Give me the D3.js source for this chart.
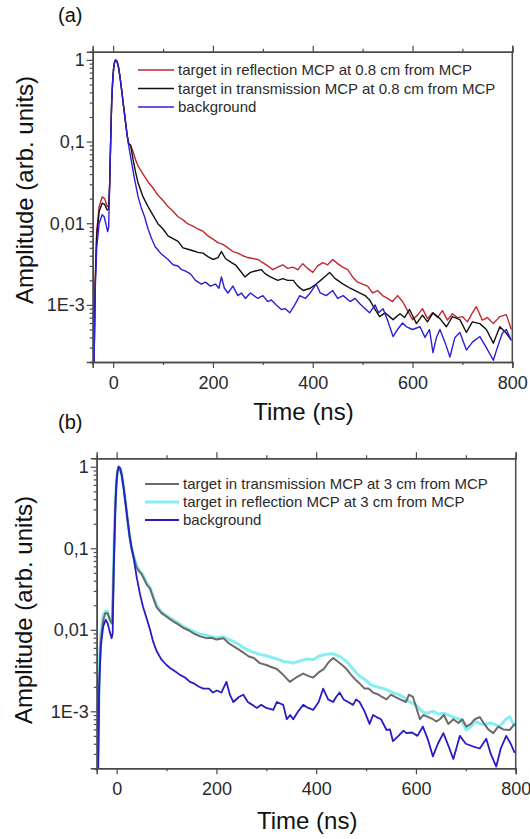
<!DOCTYPE html>
<html>
<head>
<meta charset="utf-8">
<script src="https://cdn.jsdelivr.net/npm/d3@7"></script>
<style>
  body { margin: 0; background: #fff; }
  text { font-family: Arial, "Liberation Sans", sans-serif; }
</style>
</head>
<body>
<div id="plot"></div>
<script>
// ---- data: [time (ns), amplitude] ----
var reflA = [[-39,1e-4],[-36,0.002],[-33,0.008],[-28,0.016],[-22,0.021],[-17,0.02],[-12,0.016],[-9,0.016],[-7,0.03],[-5,0.1],[-3,0.3],[-1,0.55],[1,0.8],[3,0.95],[5,1.0],[8,0.95],[11,0.8],[14,0.6],[17,0.43],[20,0.3],[24,0.19],[28,0.12],[31,0.095],[35,0.09],[40,0.075],[45,0.06],[50,0.05],[60,0.04],[70,0.032],[80,0.027],[90,0.022],[100,0.019],[110,0.016],[120,0.014],[130,0.012],[140,0.011],[150,0.0098],[160,0.0092],[170,0.0085],[180,0.008],[190,0.007],[200,0.0064],[210,0.0058],[220,0.0055],[230,0.005],[240,0.0045],[250,0.0043],[260,0.004],[270,0.0038],[280,0.0037],[290,0.0036],[300,0.0033],[310,0.003],[320,0.0027],[330,0.0029],[340,0.0031],[350,0.0028],[360,0.0029],[370,0.0027],[380,0.0032],[390,0.0028],[400,0.0025],[410,0.003],[420,0.0033],[430,0.0031],[440,0.0036],[450,0.0032],[460,0.0029],[470,0.0027],[480,0.0022],[490,0.0019],[500,0.0018],[510,0.0017],[520,0.0014],[530,0.0015],[540,0.0013],[550,0.0012],[560,0.0011],[570,0.0013],[580,0.0011],[590,0.00085],[600,0.00066],[610,0.00075],[620,0.0009],[630,0.00068],[640,0.0008],[650,0.0007],[660,0.00085],[670,0.00065],[680,0.00078],[690,0.0007],[700,0.00072],[710,0.00062],[720,0.0008],[728,0.00095],[740,0.00065],[750,0.0007],[762,0.00059],[775,0.00072],[788,0.00076],[798,0.0005]];

var transA = [[-39,1e-4],[-36,0.0018],[-33,0.007],[-28,0.014],[-22,0.0176],[-17,0.017],[-12,0.0145],[-9,0.015],[-7,0.03],[-5,0.1],[-3,0.3],[-1,0.55],[1,0.8],[3,0.95],[5,1.0],[8,0.95],[11,0.8],[14,0.6],[17,0.43],[20,0.3],[24,0.19],[28,0.12],[31,0.095],[35,0.09],[40,0.06],[45,0.042],[50,0.031],[60,0.021],[70,0.016],[80,0.0125],[90,0.0098],[100,0.0085],[110,0.007],[120,0.0065],[130,0.006],[140,0.005],[150,0.0048],[160,0.0046],[170,0.0044],[180,0.0043],[190,0.0039],[200,0.0036],[210,0.0038],[217,0.0045],[225,0.0037],[237,0.0033],[245,0.0031],[255,0.0026],[264,0.0022],[275,0.0025],[285,0.0026],[297,0.0027],[305,0.0024],[315,0.0022],[330,0.002],[340,0.0021],[350,0.002],[361,0.002],[370,0.0017],[381,0.0015],[395,0.0016],[407,0.0018],[420,0.0021],[434,0.0025],[445,0.0021],[461,0.0018],[475,0.0016],[494,0.0014],[505,0.0013],[514,0.00115],[524,0.0009],[534,0.00072],[545,0.0008],[561,0.00066],[575,0.00078],[584,0.0007],[594,0.00088],[608,0.00059],[620,0.00075],[630,0.00062],[641,0.0008],[655,0.00068],[668,0.00054],[680,0.00072],[695,0.00066],[708,0.00046],[720,0.00062],[735,0.00059],[748,0.0005],[762,0.00034],[775,0.00054],[788,0.00045],[798,0.00037]];

var bgA = [[-39,1e-4],[-36,0.0015],[-33,0.005],[-28,0.01],[-22,0.0127],[-18,0.012],[-14,0.0095],[-11,0.0079],[-9,0.009],[-7,0.03],[-5,0.1],[-3,0.3],[-1,0.55],[1,0.8],[3,0.95],[5,1.0],[8,0.95],[11,0.8],[14,0.6],[17,0.43],[20,0.3],[24,0.19],[28,0.12],[31,0.09],[36,0.06],[42,0.037],[50,0.021],[57,0.015],[63,0.012],[70,0.0085],[77,0.0065],[84,0.0052],[95,0.0043],[110,0.0036],[120,0.0031],[130,0.003],[137,0.0027],[145,0.0026],[155,0.0024],[165,0.002],[177,0.0018],[185,0.0019],[195,0.0017],[205,0.0018],[212,0.0016],[217,0.0022],[223,0.0016],[230,0.0014],[240,0.0017],[250,0.0013],[257,0.0014],[265,0.0012],[275,0.0014],[290,0.0012],[300,0.0013],[310,0.0011],[317,0.00115],[327,0.001],[337,0.00088],[345,0.0009],[354,0.0008],[364,0.001],[374,0.0013],[385,0.0012],[395,0.0014],[407,0.0018],[415,0.0014],[427,0.0013],[440,0.0015],[450,0.0012],[461,0.0013],[475,0.0011],[485,0.0012],[494,0.00104],[505,0.0009],[514,0.0008],[525,0.001],[532,0.0008],[541,0.0009],[550,0.00065],[561,0.00041],[570,0.0005],[580,0.0006],[588,0.00054],[600,0.0005],[615,0.00054],[625,0.0004],[634,0.0005],[641,0.00026],[648,0.0004],[655,0.0005],[665,0.00035],[675,0.00023],[685,0.0004],[695,0.00046],[708,0.00028],[720,0.00035],[735,0.00041],[748,0.0003],[762,0.00021],[770,0.0003],[780,0.00045],[788,0.0005],[798,0.00037]];

var transB = [[-38,1e-4],[-35,0.002],[-32,0.007],[-27,0.013],[-23,0.016],[-18,0.016],[-13,0.013],[-9,0.012],[-7,0.03],[-5,0.1],[-3,0.3],[-1,0.55],[1,0.8],[4,1.0],[7,0.95],[10,0.8],[14,0.55],[18,0.35],[22,0.22],[26,0.14],[30,0.1],[35,0.075],[40,0.058],[45,0.052],[50,0.048],[55,0.042],[60,0.036],[67,0.032],[73,0.025],[80,0.019],[90,0.016],[100,0.0145],[107,0.0135],[115,0.0125],[125,0.0115],[133,0.0106],[145,0.0098],[155,0.009],[167,0.0083],[180,0.0079],[190,0.008],[200,0.0076],[214,0.0079],[225,0.0068],[234,0.0063],[245,0.0057],[255,0.0052],[265,0.0047],[275,0.0045],[287,0.0039],[300,0.0037],[310,0.0035],[321,0.0033],[334,0.0028],[347,0.0023],[360,0.0026],[374,0.0029],[385,0.0027],[394,0.0026],[405,0.003],[415,0.0033],[425,0.004],[434,0.0045],[445,0.004],[452,0.0037],[461,0.0033],[470,0.0028],[480,0.0024],[487,0.0022],[497,0.0019],[505,0.0019],[514,0.0017],[525,0.0016],[532,0.0015],[541,0.0014],[550,0.0016],[558,0.0015],[568,0.0014],[580,0.0013],[586,0.0016],[594,0.0015],[601,0.0011],[608,0.0008],[615,0.0009],[625,0.00085],[634,0.0008],[641,0.00075],[648,0.0008],[656,0.0009],[665,0.0007],[675,0.0008],[685,0.00072],[693,0.0008],[701,0.00065],[710,0.0007],[718,0.0008],[728,0.00085],[737,0.0007],[745,0.0006],[755,0.00054],[765,0.00065],[775,0.0006],[788,0.00059],[798,0.0007]];

var reflB = [[-38,1e-4],[-35,0.003],[-32,0.009],[-27,0.015],[-23,0.0168],[-19,0.017],[-15,0.014],[-11,0.012],[-9,0.013],[-7,0.04],[-5,0.12],[-3,0.32],[-1,0.58],[1,0.82],[4,1.0],[7,0.96],[10,0.82],[14,0.56],[18,0.36],[22,0.22],[26,0.14],[30,0.1],[35,0.078],[40,0.062],[45,0.055],[50,0.05],[55,0.044],[60,0.038],[67,0.033],[73,0.026],[80,0.02],[90,0.0165],[100,0.015],[107,0.014],[115,0.013],[125,0.012],[133,0.011],[145,0.0102],[155,0.0095],[167,0.0088],[180,0.0086],[190,0.0082],[200,0.008],[214,0.0082],[225,0.0076],[234,0.0072],[245,0.0066],[255,0.006],[265,0.0056],[275,0.0053],[287,0.005],[300,0.0048],[310,0.0046],[321,0.0044],[334,0.0041],[347,0.004],[354,0.0039],[365,0.0041],[381,0.0044],[394,0.0043],[407,0.0048],[420,0.005],[434,0.0051],[447,0.0047],[461,0.0041],[474,0.0033],[487,0.0027],[500,0.0024],[510,0.0021],[521,0.002],[535,0.0019],[545,0.0018],[554,0.0017],[565,0.0016],[575,0.0015],[588,0.0013],[600,0.0012],[612,0.001],[621,0.00095],[635,0.001],[645,0.00092],[655,0.00095],[665,0.0009],[675,0.00085],[688,0.0008],[695,0.0007],[701,0.00059],[710,0.00065],[720,0.00075],[730,0.0007],[741,0.0007],[750,0.00072],[760,0.00068],[768,0.00065],[780,0.0008],[788,0.00086],[798,0.00065]];

var bgB = [[-38,1e-4],[-35,0.002],[-32,0.006],[-27,0.011],[-22,0.0133],[-18,0.012],[-14,0.0095],[-10,0.0079],[-8,0.009],[-6,0.05],[-4,0.15],[-2,0.4],[0,0.7],[2,0.9],[4,1.0],[7,0.95],[10,0.8],[14,0.55],[18,0.35],[22,0.22],[26,0.14],[30,0.1],[35,0.07],[40,0.045],[47,0.027],[53,0.019],[60,0.0139],[67,0.01],[73,0.0072],[80,0.0055],[90,0.0043],[100,0.0037],[107,0.0034],[117,0.0031],[127,0.0028],[137,0.0026],[147,0.0023],[155,0.0022],[165,0.002],[174,0.0019],[185,0.0019],[193,0.0017],[201,0.0018],[210,0.0017],[220,0.0023],[227,0.0016],[234,0.0013],[245,0.0015],[254,0.0016],[263,0.0013],[272,0.0012],[281,0.0011],[290,0.0012],[300,0.0011],[314,0.00104],[321,0.0013],[334,0.0012],[341,0.0008],[348,0.0009],[354,0.0008],[364,0.001],[374,0.0012],[384,0.0011],[394,0.00104],[405,0.0013],[414,0.0019],[424,0.0014],[434,0.0013],[440,0.0015],[447,0.0017],[455,0.0014],[464,0.0013],[474,0.0012],[480,0.0014],[487,0.0013],[497,0.001],[507,0.0007],[514,0.0009],[521,0.00085],[530,0.0008],[541,0.00059],[548,0.0006],[554,0.00043],[565,0.0005],[575,0.00058],[581,0.00054],[592,0.00055],[603,0.0005],[614,0.00065],[624,0.00045],[634,0.00028],[644,0.0004],[655,0.00054],[665,0.00038],[675,0.00026],[681,0.00035],[688,0.0005],[700,0.0004],[715,0.00037],[728,0.00035],[741,0.00046],[750,0.0003],[761,0.00021],[770,0.00035],[781,0.0005],[790,0.0004],[798,0.00031]];

var xMajor = [0, 200, 400, 600, 800];
var xMinor = [100, 300, 500, 700];
var yMajor = [1e-3, 1e-2, 0.1, 1];
var yLabels = {"0.001": "1E-3", "0.01": "0,01", "0.1": "0,1", "1": "1"};

var width = 530, height = 839;
var axisColor = "#4a4a4a", textColor = "#2a2a2a";

var svg = d3.select("#plot").append("svg")
    .attr("width", width)
    .attr("height", height);

// minor ticks 2..9 for each decade inside the domain
function logMinors(lo, hi) {
  var out = [];
  for (var e = -5; e <= 1; e++) {
    for (var m = 2; m <= 9; m++) {
      var v = m * Math.pow(10, e);
      if (v >= lo && v <= hi) out.push(v);
    }
  }
  return out;
}

function drawPanel(p) {
  var x = d3.scaleLinear().domain(p.xdom).range([p.left, p.right]);
  var y = d3.scaleLog().domain(p.ydom).range([p.bottom, p.top]);
  var g = svg.append("g");

  g.append("clipPath").attr("id", "clip" + p.id)
    .append("rect")
    .attr("x", p.left).attr("y", p.top)
    .attr("width", p.right - p.left).attr("height", p.bottom - p.top);

  var line = d3.line()
      .x(function(d) { return x(d[0]); })
      .y(function(d) { return y(d[1]); });

  // curves (drawn in p.series order)
  var curves = g.append("g").attr("clip-path", "url(#clip" + p.id + ")");
  p.series.forEach(function(s) {
    curves.append("path")
      .datum(s.data)
      .attr("d", line)
      .attr("fill", "none")
      .attr("stroke", s.color)
      .attr("stroke-width", s.w)
      .attr("stroke-linejoin", "round");
  });

  // axes
  g.append("g").attr("transform", "translate(" + p.left + ",0)")
    .call(d3.axisLeft(y).tickValues(yMajor).tickSize(6).tickPadding(2)
      .tickFormat(function(d) { return yLabels[String(d)]; }));
  g.append("g").attr("transform", "translate(" + p.left + ",0)")
    .call(d3.axisLeft(y).tickValues(logMinors(p.ydom[0], p.ydom[1])).tickSize(3).tickFormat(""));

  var xAxis = g.append("g").attr("transform", "translate(0," + p.bottom + ")")
    .call(d3.axisBottom(x).tickValues(xMajor).tickSize(6).tickPadding(5));
  g.append("g").attr("transform", "translate(0," + p.bottom + ")")
    .call(d3.axisBottom(x).tickValues(xMinor).tickSize(3).tickFormat(""));

  g.append("g").attr("transform", "translate(0," + p.top + ")")
    .call(d3.axisTop(x).tickValues(xMajor).tickSize(6).tickFormat(""));
  g.append("g").attr("transform", "translate(0," + p.top + ")")
    .call(d3.axisTop(x).tickValues(xMinor).tickSize(3).tickFormat(""));

  g.append("line").attr("class", "frame")
    .attr("x1", p.right).attr("x2", p.right)
    .attr("y1", p.top).attr("y2", p.bottom)
    .attr("stroke", axisColor).attr("stroke-width", 1.5);

  g.selectAll(".domain").attr("stroke", axisColor).attr("stroke-width", 1.5);
  g.selectAll(".tick line").attr("stroke", axisColor).attr("stroke-width", 1.2);
  g.selectAll(".tick text").attr("fill", textColor).style("font-size", "18px")
    .style("font-family", "Arial, 'Liberation Sans', sans-serif");
  xAxis.selectAll(".tick text").attr("dy", "0.9em");

  // legend (in p.legend order)
  var lg = g.append("g");
  p.legend.forEach(function(s, i) {
    var ly = p.legY + i * p.legStep;
    lg.append("line")
      .attr("x1", p.legX).attr("x2", p.legX + p.legLen)
      .attr("y1", ly).attr("y2", ly)
      .attr("stroke", s.color).attr("stroke-width", s.w);
    lg.append("text")
      .attr("x", p.legX + p.legLen + 4).attr("y", ly)
      .attr("dy", "0.35em")
      .attr("fill", textColor)
      .style("font-size", "15px")
      .text(s.label);
  });

  // titles
  g.append("text")
    .attr("x", (p.left + p.right) / 2 + 1).attr("y", p.xTitleY)
    .attr("text-anchor", "middle").attr("fill", "#111")
    .style("font-size", "24px")
    .text("Time (ns)");
  g.append("text")
    .attr("transform", "translate(" + p.yTitleX + "," + p.yTitleMid + ") rotate(-90)")
    .attr("text-anchor", "middle").attr("fill", "#111")
    .style("font-size", "24px")
    .text("Amplitude (arb. units)");
  g.append("text")
    .attr("x", 58).attr("y", p.tagY)
    .attr("fill", "#111")
    .style("font-size", "20px")
    .text(p.tag);
}

var sReflA = {data: reflA, color: "#c0282e", w: 1.4, label: "target in reflection MCP at 0.8 cm from MCP"};
var sTransA = {data: transA, color: "#111111", w: 1.4, label: "target in transmission MCP at 0.8 cm from MCP"};
var sBgA = {data: bgA, color: "#2d1fd6", w: 1.4, label: "background"};

var sTransB = {data: transB, color: "#6b6b6b", w: 2, label: "target in transmission MCP at 3 cm from MCP"};
var sReflB = {data: reflB, color: "#86eef0", w: 3, label: "target in reflection MCP at 3 cm from MCP"};
var sBgB = {data: bgB, color: "#2a1cc4", w: 1.8, label: "background"};

drawPanel({
  id: "a", tag: "(a)", tagY: 22,
  left: 92.7, right: 512.3, top: 51.7, bottom: 362,
  xdom: [-41, 800], ydom: [2e-4, 1.26],
  legX: 138, legLen: 36, legY: 70, legStep: 18.5,
  xTitleY: 420, yTitleX: 33, yTitleMid: 190,
  series: [sReflA, sTransA, sBgA],
  legend: [sReflA, sTransA, sBgA]
});

drawPanel({
  id: "b", tag: "(b)", tagY: 429,
  left: 96.7, right: 515.7, top: 458.3, bottom: 768.3,
  xdom: [-40, 800], ydom: [2e-4, 1.27],
  legX: 145, legLen: 34, legY: 484, legStep: 18,
  xTitleY: 829, yTitleX: 32, yTitleMid: 610,
  series: [sReflB, sTransB, sBgB],
  legend: [sTransB, sReflB, sBgB]
});
</script>
</body>
</html>
